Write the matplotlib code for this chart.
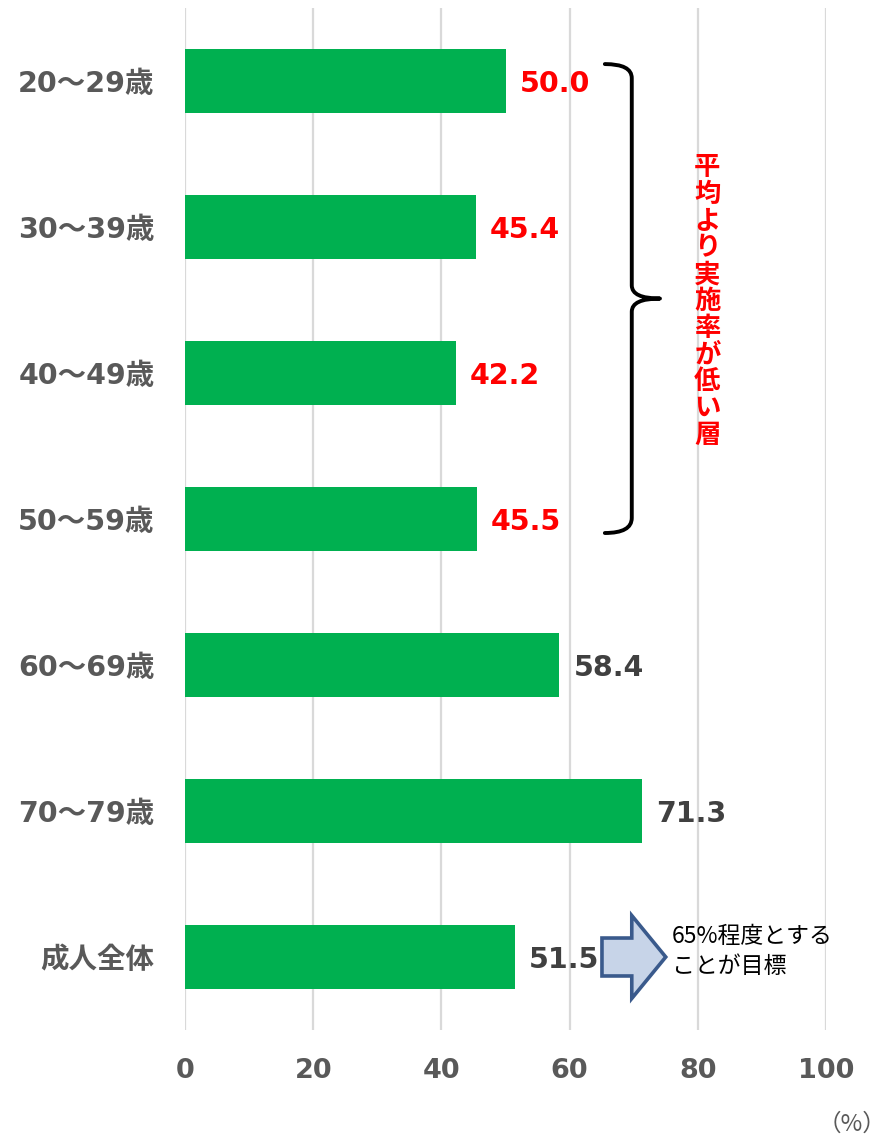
import matplotlib
matplotlib.use('Agg')
import matplotlib.pyplot as plt
from matplotlib.path import Path
from matplotlib.patches import PathPatch, Polygon

categories = ['20～29歳', '30～39歳', '40～49歳', '50～59歳', '60～69歳', '70～79歳', '成人全体']
values = [50.0, 45.4, 42.2, 45.5, 58.4, 71.3, 51.5]
highlight = [True, True, True, True, False, False, False]
xticks = [0, 20, 40, 60, 80, 100]
note_vertical = '平均より実施率が低い層'
note_target = ['65%程度とする', 'ことが目標']
unit_label = '（%）'

GREEN = '#00B050'
RED = '#FF0000'
DARK = '#404040'
GRAY = '#595959'
CJK = ['DejaVu Sans', 'Noto Sans CJK JP']

fig = plt.figure(figsize=(8.88, 11.37), dpi=100)
ax = fig.add_axes([185 / 888, 107 / 1137, 641 / 888, 1022 / 1137])

ypos = list(range(len(categories)))
ax.barh(ypos, values, height=0.445, color=GREEN, zorder=3)
ax.set_xlim(0, 100)
ax.set_ylim(len(categories) - 0.5, -0.5)
ax.set_xticks(xticks)
ax.set_xticklabels([str(t) for t in xticks], fontsize=19.5, fontweight='bold',
                   color=GRAY, family='DejaVu Sans')
ax.set_yticks(ypos)
ax.set_yticklabels(categories, fontsize=20.5, fontweight='bold', color=GRAY, family=CJK)
ax.tick_params(axis='y', length=0, pad=22)
ax.tick_params(axis='x', length=0, pad=20)
ax.xaxis.grid(True, color='#D9D9D9', linewidth=1.6, zorder=0)
ax.set_axisbelow(True)
for s in ax.spines.values():
    s.set_visible(False)

# value labels
for i, (v, h) in enumerate(zip(values, highlight)):
    ax.text(v + 2.2, i + 0.02, f'{v:.1f}', va='center', ha='left', fontsize=20.5,
            fontweight='bold', color=RED if h else DARK, family='DejaVu Sans',
            zorder=5)

# brace over the highlighted groups
top = 0 - 0.116
bot = 3 + 0.096
mid = (top + bot) / 2
xe, xb, xt = 65.5, 69.7, 74.1
verts = [(xe, top), (xb, top), (xb, top + 0.096),
         (xb, mid - 0.09),
         (xb, mid), (xt, mid),
         (xb, mid), (xb, mid + 0.09),
         (xb, bot - 0.103),
         (xb, bot), (xe, bot)]
codes = [Path.MOVETO, Path.CURVE3, Path.CURVE3,
         Path.LINETO,
         Path.CURVE3, Path.CURVE3,
         Path.CURVE3, Path.CURVE3,
         Path.LINETO,
         Path.CURVE3, Path.CURVE3]
ax.add_patch(PathPatch(Path(verts, codes), facecolor='none', edgecolor='black',
                       linewidth=2.8, capstyle='round', joinstyle='round',
                       clip_on=False, zorder=6))

# vertical red note
pitch = 26.8 / 146
n = len(note_vertical)
yc = 1.51
for k, ch in enumerate(note_vertical):
    ax.text(81.5, yc + (k - (n - 1) / 2) * pitch, ch, ha='center', va='center',
            fontsize=19, fontweight='bold', color=RED, family='Noto Sans CJK JP',
            zorder=6)

# block arrow next to overall bar
yc = 6
arrow = Polygon([(65.05, yc - 0.13), (69.7, yc - 0.13), (69.7, yc - 0.284),
                 (75.0, yc), (69.7, yc + 0.284), (69.7, yc + 0.13),
                 (65.05, yc + 0.13)], closed=True, facecolor='#C7D4E8',
                edgecolor='#3A5A8C', linewidth=2.6, joinstyle='miter',
                clip_on=False, zorder=6)
ax.add_patch(arrow)
for k, line in enumerate(note_target):
    ax.text(76.0, yc - 0.14 + k * 0.205, line, ha='left', va='center', fontsize=16.5,
            color='black', family=['Noto Sans CJK JP', 'DejaVu Sans'], zorder=6)

fig.text(886 / 888, 1 - 1124 / 1137, unit_label, ha='right', va='center',
         fontsize=17, color=GRAY, family='Noto Sans CJK JP')

fig.savefig('out.png', dpi=100, facecolor='white')
